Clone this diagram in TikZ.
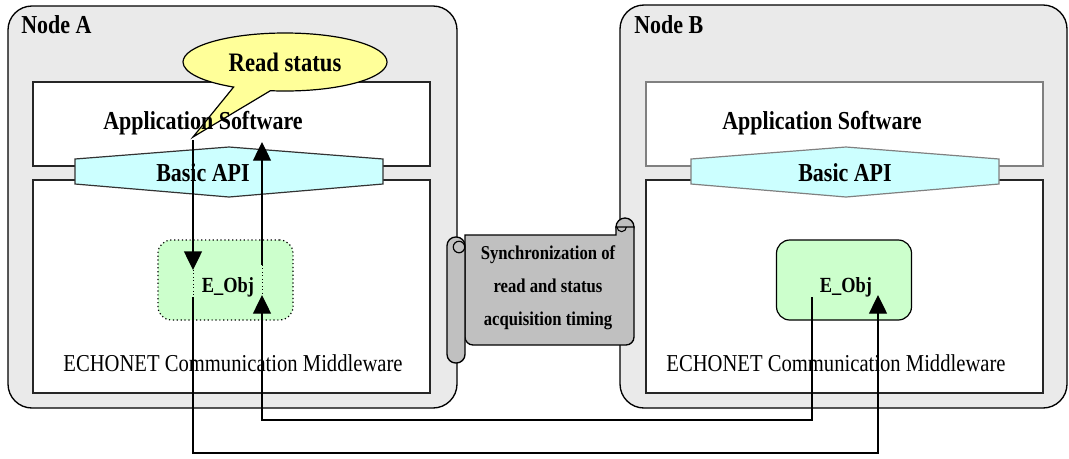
\documentclass[tikz,border=0pt]{standalone}
\usepackage{fontspec}
\setmainfont{Liberation Serif}[FakeStretch=0.85]
\usetikzlibrary{arrows.meta,shapes.callouts}
\definecolor{outergray}{HTML}{EAEAEA}
\definecolor{apifill}{HTML}{CCFFFF}
\definecolor{objfill}{HTML}{CCFFCC}
\definecolor{bubfill}{HTML}{FFFF99}
\definecolor{scrollgray}{HTML}{C0C0C0}
\definecolor{lightborder}{HTML}{808080}
\tikzset{
  outer/.style={draw=black, fill=outergray, line width=1pt, rounded corners=18pt},
  layerbox/.style={draw=black!85, fill=white, line width=0.9pt},
  layerboxlight/.style={draw=lightborder, fill=white, line width=0.9pt},
  api/.style={draw=black!80, fill=apifill, line width=0.9pt},
  apilight/.style={draw=lightborder, fill=apifill, line width=0.9pt},
  bigbold/.style={font=\bfseries\fontsize{19.4}{21}\selectfont, inner sep=0pt},
  mwtext/.style={font=\fontsize{18.2}{20}\selectfont, inner sep=0pt},
  objtext/.style={font=\bfseries\fontsize{16.2}{18}\selectfont, inner sep=0pt},
  objbox/.style={fill=objfill, line width=0.9pt, rounded corners=10pt, minimum width=101.25pt, minimum height=60pt, inner sep=0pt},
  arr/.style={draw=black, line width=1pt, -{Triangle[length=14pt,width=13.5pt]}},
  scrollst/.style={draw=black, fill=scrollgray, line width=1pt},
}
\begin{document}
\begin{tikzpicture}[x=0.75pt,y=-0.75pt]
\useasboundingbox (0,0) rectangle (1069,458);
\fill[white] (0,0) rectangle (1069,458);

% ---------- Node A ----------
\draw[outer] (8,6) rectangle (457,408);
\node[bigbold, anchor=west] (nA) at (21,25) {Node A};
\draw[layerbox] (33,82) rectangle (430,166);
\draw[layerbox] (33,180) rectangle (430,393);
\draw[api] (75,159) -- (229,147) -- (383,159) -- (383,184) -- (229,197) -- (75,184) -- cycle;
\node[bigbold] (apiA) at (203,173) {Basic API};
\node[mwtext] (mwA) at (233,363) {ECHONET Communication Middleware};
\node[objbox, draw=black, dotted] (eA) at (225.5,280) {};
\node[objtext] (eAt) at (228,287) {E\_Obj};

% callout
\coordinate (bubtip) at (193,137);
\node[ellipse callout, draw=black, fill=bubfill, line width=0.9pt,
      minimum width=153pt, minimum height=43.5pt, inner sep=0pt,
      callout absolute pointer={(bubtip)}, callout pointer arc=22,
      font=\bfseries\fontsize{20}{22}\selectfont] (bub) at (285,62) {Read status};
\node[bigbold] (appA) at (203,123) {Application Software};

% ---------- Node B ----------
\draw[outer] (620,5) rectangle (1067,408);
\node[bigbold, anchor=west] (nB) at (634,25) {Node B};
\draw[layerboxlight] (646,82) rectangle (1043,166);
\draw[layerbox] (646,180) rectangle (1043,393);
\draw[apilight] (691,159) -- (846,147) -- (999,159) -- (999,184) -- (846,197) -- (691,184) -- cycle;
\node[bigbold] (appB) at (822,123) {Application Software};
\node[bigbold] (apiB) at (845,173) {Basic API};
\node[mwtext] (mwB) at (836,363) {ECHONET Communication Middleware};
\node[objbox, draw=black] (eB) at (844,280) {};
\node[objtext] (eBt) at (846,287) {E\_Obj};

% ---------- Scroll ----------
\filldraw[scrollst] (625,227) circle[radius=6.75pt];
\filldraw[scrollst] (465,235) -- (616,235) -- (616,227) -- (634,227)
   [rounded corners=6pt] -- (634,345) -- (465,345) [sharp corners] -- cycle;
\draw[line width=0.8pt] (617,227) arc[start angle=180, end angle=360, radius=3.5pt];
\filldraw[scrollst, rounded corners=6.5pt] (447,237) rectangle (465,363);
\draw[line width=0.9pt] (459,247) circle[radius=4.3pt];
\node[font=\bfseries\fontsize{14.7}{24.75}\selectfont, align=center, inner sep=0pt] (sync) at (548,288)
  {Synchronization of\\read and status\\acquisition timing};

% ---------- Connectors ----------
\coordinate (a1s) at (193,140);
\coordinate (a1e) at (193,270);
\coordinate (a2s) at (193,297);
\coordinate (a2c) at (878,453);
\coordinate (a2e) at (878,295);
\coordinate (b1s) at (812,297);
\coordinate (b1c) at (262,420);
\coordinate (b1e) at (262,295);
\coordinate (b2s) at (262,265);
\coordinate (b2e) at (262,142);

\draw[line width=0.6pt, dotted] (a1e) -- (a2s);
\draw[line width=0.6pt, dotted] (b2s) -- (b1e);
\draw[arr] (a1s) -- (a1e);
\draw[arr] (a2s) |- (a2c) -- (a2e);
\draw[arr] (b1s) |- (b1c) -- (b1e);
\draw[arr] (b2s) -- (b2e);
\end{tikzpicture}
\end{document}
